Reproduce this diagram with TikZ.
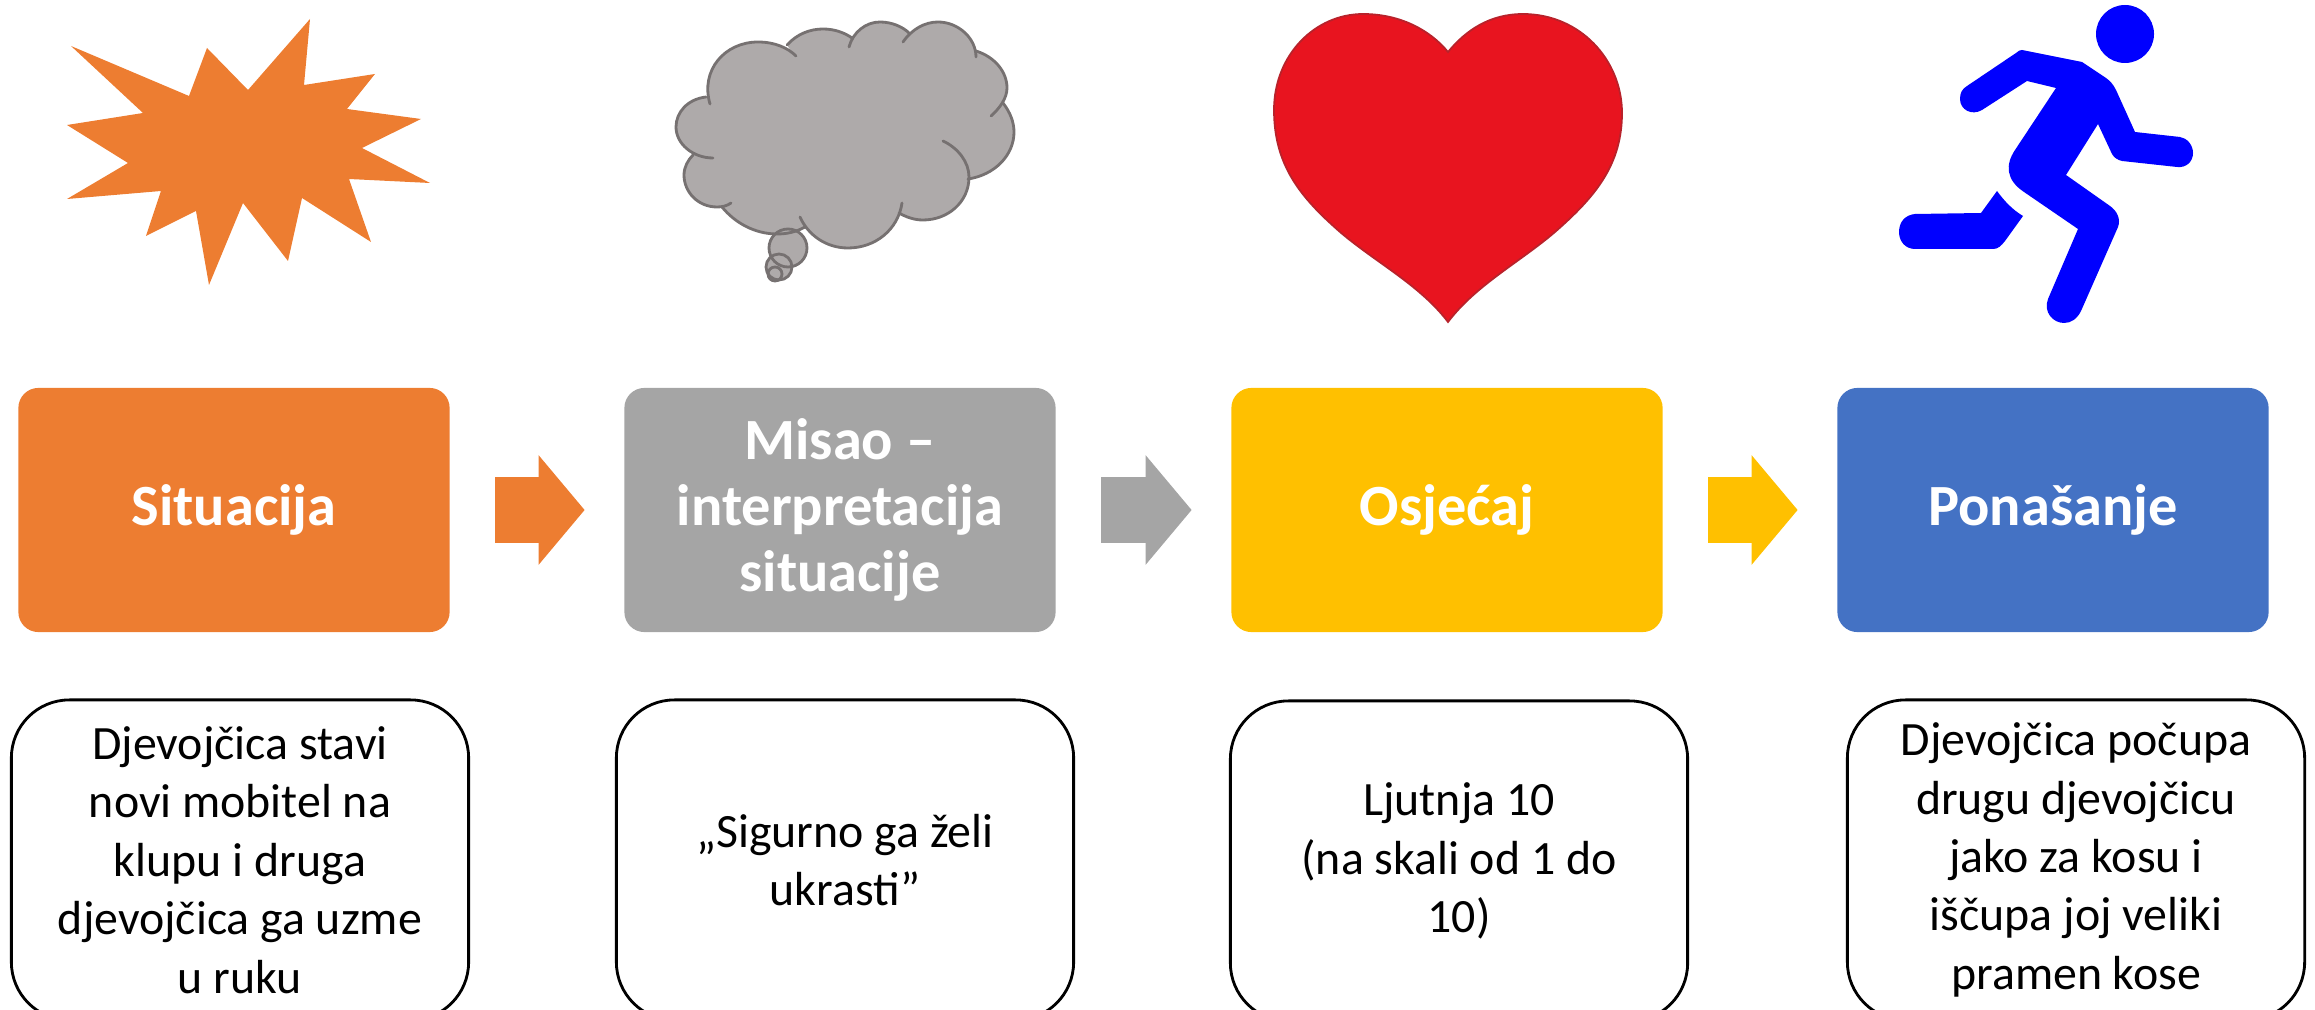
\documentclass[tikz,border=0pt]{standalone}
\usepackage{fontspec}
\usepackage{xcolor}
\usepackage{tikz}
\usetikzlibrary{arrows.meta}
\setmainfont{Carlito}
\definecolor{orangebox}{HTML}{ED7D31}
\definecolor{graybox}{HTML}{A5A5A5}
\definecolor{goldbox}{HTML}{FFC000}
\definecolor{bluebox}{HTML}{4472C4}
\definecolor{cloudfill}{HTML}{AEAAAA}
\definecolor{cloudline}{HTML}{767171}
\definecolor{heartred}{HTML}{E8141F}
\definecolor{heartline}{HTML}{B8222B}
\tikzset{
    titlebox/.style={rectangle, rounded corners=0.2cm, minimum width=4.31cm, minimum height=2.44cm,
        inner sep=0pt, text=white, align=center, font=\fontsize{16.6}{18.8}\selectfont\bfseries},
    textbox/.style={rectangle, draw=black, line width=0.8pt, rounded corners=0.58cm, minimum width=4.57cm,
        minimum height=3.2cm, inner sep=0pt, align=center, font=\fontsize{13.6}{16.6}\selectfont},
    flow/.style={line width=0.65cm, -{Triangle[length=0.46cm,width=1.07cm]}, shorten <=0.45cm, shorten >=0.39cm},
    lobe/.style={draw=cloudline, line width=0.8pt, line cap=round}
}
\begin{document}
\begin{tikzpicture}[x=0.01cm, y=-0.01cm]
                \clip[use as bounding box] (0,0) rectangle (2315,1010);
                \fill[orangebox] (71,46) -- (189,96) -- (207,48) -- (248,90) -- (310,19) -- (304,85) -- (375,74) -- 
                    (347,109) -- (421,119) -- (362,148) -- (430,183) -- (349,179) -- (371,242) -- (302,198) -- 
                    (288,261) -- (243,203) -- (209,285) -- (196,211) -- (146,236) -- (161,191) -- (67,199) -- 
                    (128,163) -- (67,125) -- (143,113) -- cycle;
                \def\cloudlobes{
                    {(710,104) .. controls (700,70) and (725,42) .. (758,42) .. controls (775,42) and (788,48) .. (796,56)},
                    {(787,45) .. controls (797,34) and (810,29) .. (823,29) .. controls (835,29) and (845,33) .. (852,38)},
                    {(849,47) .. controls (853,32) and (866,22) .. (880,22) .. controls (892,22) and (903,27) .. (909,33)},
                    {(903,42) .. controls (912,29) and (925,22) .. (938,22) .. controls (958,22) and (976,38) .. (976,57)},
                    {(976,51) .. controls (995,57) and (1007,72) .. (1007,88) .. controls (1007,98) and (1000,108) .. (991,116)},
                    {(1003,103) .. controls (1010,112) and (1014,122) .. (1014,132) .. controls (1014,155) and (995,175) .. (968,179)},
                    {(943,141) .. controls (958,148) and (969,162) .. (969,177) .. controls (969,202) and (948,220) .. (923,220) .. controls (914,220) and (906,217) .. (899,213)},
                    {(902,203) .. controls (898,230) and (875,248) .. (848,248) .. controls (826,248) and (808,235) .. (800,217)},
                    {(805,227) .. controls (796,232) and (787,234) .. (777,234) .. controls (755,234) and (735,223) .. (722,207)},
                    {(731,203) .. controls (727,206) and (722,207) .. (717,207) .. controls (698,207) and (684,192) .. (684,175) .. controls (684,167) and (688,160) .. (693,155)},
                    {(713,158) .. controls (693,158) and (676,144) .. (676,127) .. controls (676,112) and (688,99) .. (706,97)}}
                \foreach \lobepath in \cloudlobes
                    \fill[cloudfill] \lobepath -- (845,130) -- cycle;
                \fill[cloudfill] (758,60) -- (823,40) -- (880,34) -- (938,34) -- (990,88) -- (1000,135) -- (950,190) -- 
                    (848,235) -- (777,225) -- (717,195) -- (695,127) -- cycle;
                \foreach \bubblex/\bubbley/\bubbler in {788/248/19, 779/267/13, 775/274/7}
                    \fill[cloudfill] (\bubblex,\bubbley) circle (\bubbler);
                \foreach \lobepath in \cloudlobes
                    \draw[lobe] \lobepath;
                \foreach \bubblex/\bubbley/\bubbler in {788/248/19, 779/267/13, 775/274/7}
                    \draw[lobe] (\bubblex,\bubbley) circle (\bubbler);
                \draw[fill=heartred, draw=heartline, line width=0.5pt] (1448,322) .. controls (1420,285) and (1375,262) .. 
                    (1340,232) .. controls (1300,197) and (1274,165) .. (1274,110) .. controls (1274,55) and (1315,14) .. 
                    (1363,14) .. controls (1400,14) and (1430,30) .. (1448,52) .. controls (1466,30) and (1490,14) .. 
                    (1523,14) .. controls (1580,14) and (1622,60) .. (1622,113) .. controls (1622,165) and (1595,197) .. 
                    (1555,232) .. controls (1520,262) and (1476,285) .. (1448,322) -- cycle;
                \fill[blue] (2125,34) circle (29);
                \fill[blue] (2022,50) -- (2082,62) -- (2106,78) .. controls (2110,81) and (2113,84) .. (2116,90) -- 
                    (2135,132) -- (2180,137) .. controls (2187,138) and (2193,145) .. (2193,153) .. controls (2193,162) and (2186,168) .. 
                    (2177,167) -- (2122,161) .. controls (2118,160) and (2114,158) .. (2112,154) -- (2098,124) -- (2066,175) -- 
                    (2110,206) .. controls (2117,211) and (2121,219) .. (2118,227) -- (2081,311) .. controls (2077,319) and (2071,323) .. 
                    (2064,323) .. controls (2053,323) and (2043,312) .. (2048,299) -- (2078,229) -- (2024,192) .. controls (2006,180) and (2005,165) .. 
                    (2015,150) -- (2056,88) -- (2027,81) -- (1982,110) .. controls (1972,116) and (1960,110) .. (1960,99) .. controls (1960,93) and (1962,89) .. 
                    (1967,86) -- (2016,53) .. controls (2018,51) and (2020,50) .. (2022,50) -- cycle;
                \fill[blue] (1997,191) .. controls (2005,202) and (2013,210) .. (2023,216) -- (2005,241) .. controls (2001,246) and (1998,249) .. 
                    (1993,249) -- (1915,249) .. controls (1905,249) and (1899,241) .. (1899,232) .. controls (1899,222) and (1905,215) .. 
                    (1915,214) -- (1981,213) -- cycle;
                \node[titlebox, fill=orangebox] (situacija) at (234,510) {Situacija};
                \node[titlebox, fill=graybox] (misao) at (840,510) {Misao –\\interpretacija\\situacije};
                \node[titlebox, fill=goldbox] (osjecaj) at (1447,510) {Osjećaj};
                \node[titlebox, fill=bluebox] (ponasanje) at (2053,510) {Ponašanje};
                \draw[flow, orangebox] (situacija) -- (misao);
                \draw[flow, graybox] (misao) -- (osjecaj);
                \draw[flow, goldbox] (osjecaj) -- (ponasanje);
                \node[textbox] (primjer) at (240,860) {Djevojčica stavi\\novi mobitel na\\klupu i druga\\djevojčica ga uzme\\u ruku};
                \node[textbox] (misli) at (845,860) {„Sigurno ga želi\\ukrasti”};
                \node[textbox] (ljutnja) at (1459,861) {Ljutnja 10\\(na skali od 1 do\\10)};
                \node[textbox] (cupanje) at (2076,860) {Djevojčica počupa\\drugu djevojčicu\\jako za kosu i\\iščupa joj veliki\\pramen kose};
            \end{tikzpicture}
\end{document}
